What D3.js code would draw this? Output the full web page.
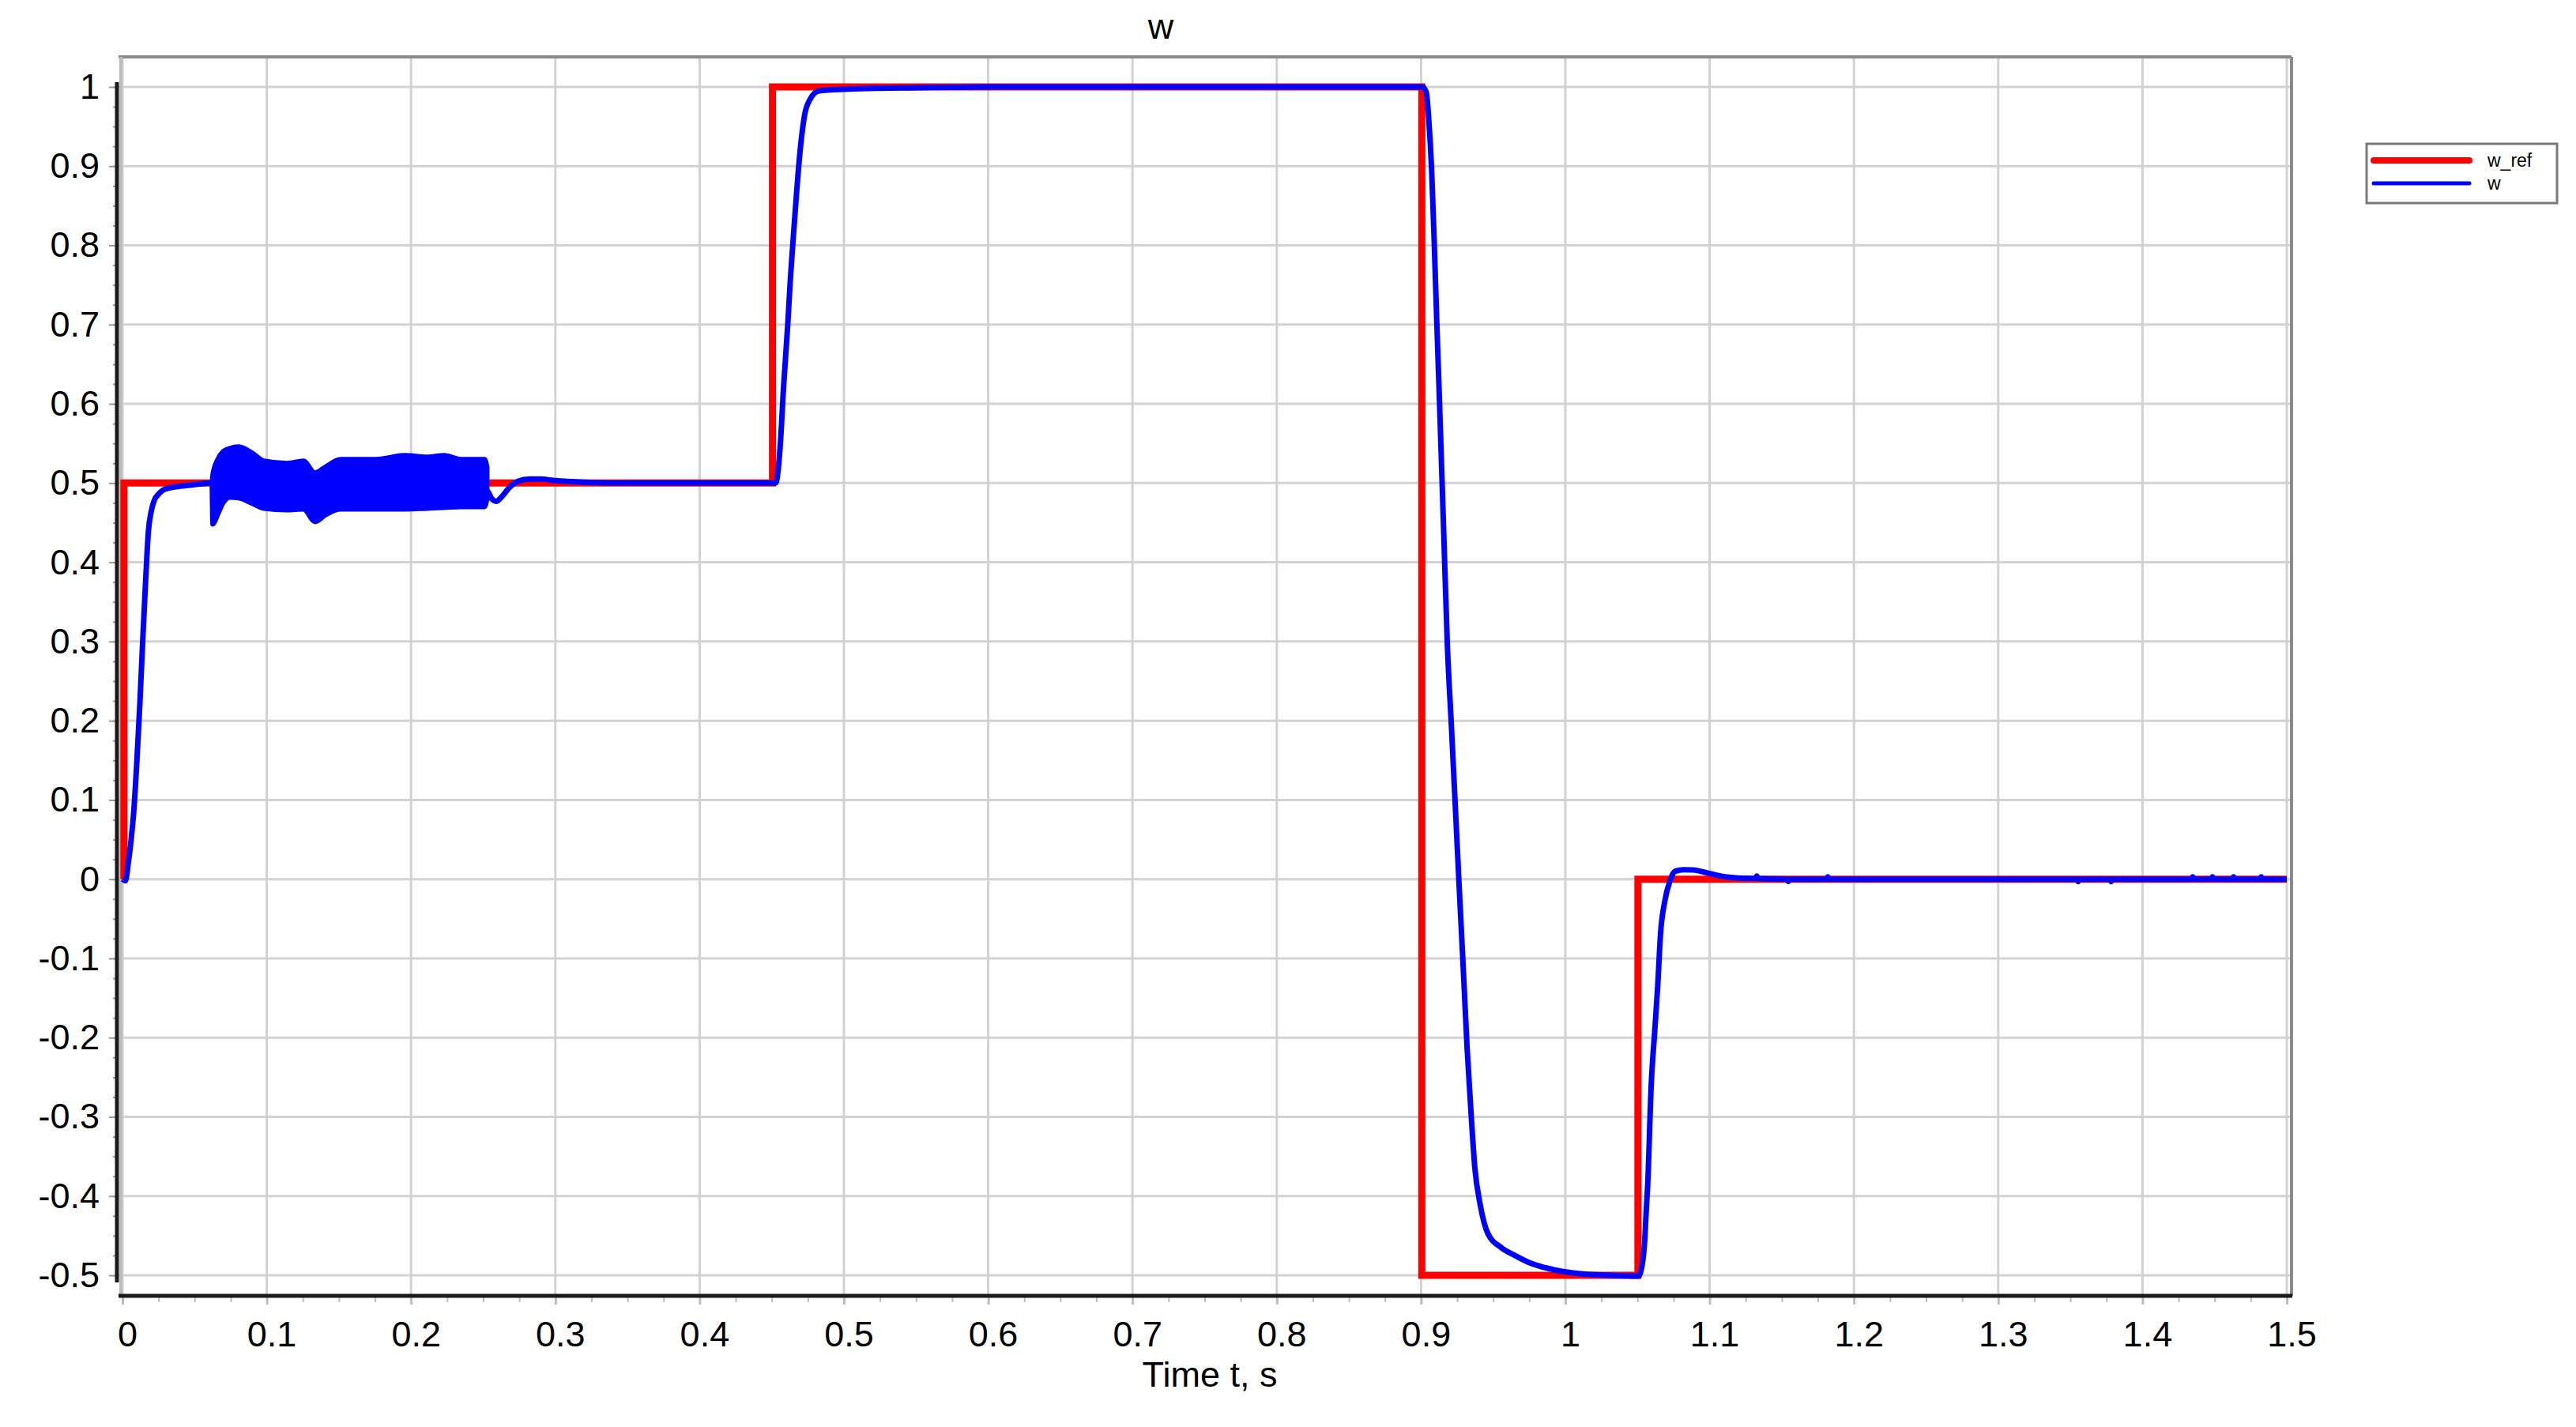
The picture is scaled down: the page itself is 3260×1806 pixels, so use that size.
<!DOCTYPE html>
<html>
<head>
<meta charset="utf-8">
<script src="https://cdn.jsdelivr.net/npm/d3@7"></script>
<style>
  html, body { margin: 0; padding: 0; background: #ffffff; }
  svg { display: block; font-family: "Liberation Sans", Arial, sans-serif; }
</style>
</head>
<body>
<svg id="chart" width="3260" height="1806"></svg>
<script>
// ---------------- data ----------------
const chartTitle = "w";
const xAxisTitle = "Time t, s";
const seriesNames = ["w_ref", "w"];

const xTickValues = [0, 0.1, 0.2, 0.3, 0.4, 0.5, 0.6, 0.7, 0.8, 0.9, 1, 1.1, 1.2, 1.3, 1.4, 1.5];
const xTickLabels = ["0", "0.1", "0.2", "0.3", "0.4", "0.5", "0.6", "0.7", "0.8", "0.9", "1", "1.1", "1.2", "1.3", "1.4", "1.5"];
const yTickValues = [1, 0.9, 0.8, 0.7, 0.6, 0.5, 0.4, 0.3, 0.2, 0.1, 0, -0.1, -0.2, -0.3, -0.4, -0.5];
const yTickLabels = ["1", "0.9", "0.8", "0.7", "0.6", "0.5", "0.4", "0.3", "0.2", "0.1", "0", "-0.1", "-0.2", "-0.3", "-0.4", "-0.5"];

// reference speed (step signal)
const refT = [0, 0.001, 0.001, 0.4505, 0.4505, 0.9005, 0.9005, 1.0503, 1.0503, 1.5];
const refV = [0, 0, 0.5, 0.5, 1, 1, -0.5, -0.5, 0, 0];

// measured speed w (smooth parts)
const wT = [0, 0.002, 0.004, 0.006, 0.008, 0.010, 0.012, 0.014, 0.016, 0.018, 0.020, 0.022, 0.025, 0.028, 0.033, 0.040, 0.050, 0.062,
  0.2527, 0.256, 0.259, 0.263, 0.268, 0.274, 0.282, 0.290, 0.300, 0.320, 0.350, 0.400, 0.4527,
  0.4558, 0.4582, 0.4610, 0.4628, 0.4650, 0.4673, 0.4700, 0.4728, 0.4764, 0.4828, 0.4993, 0.550, 0.600, 0.700, 0.800, 0.9009,
  0.9036, 0.9054, 0.9073, 0.9091, 0.9109, 0.9128, 0.9155, 0.9182, 0.9210, 0.9237, 0.9264, 0.9292, 0.9319, 0.9346, 0.9373, 0.9410,
  0.9465, 0.9556, 0.9650, 0.9737, 0.9830, 0.9920, 1.0104, 1.0300, 1.0506,
  1.0533, 1.0551, 1.0560, 1.0570, 1.0595, 1.0620, 1.0640, 1.0660, 1.0689, 1.0725, 1.0761, 1.0820, 1.0887, 1.0980, 1.1107, 1.1290,
  1.1320, 1.1327, 1.1334, 1.1540, 1.1545, 1.1550, 1.1815, 1.1819, 1.1823, 1.2300,
  1.3550, 1.3554, 1.3558, 1.3778, 1.3782, 1.3786, 1.4344, 1.4348, 1.4352, 1.4481, 1.4485, 1.4489,
  1.4627, 1.4631, 1.4635, 1.4819, 1.4823, 1.4827, 1.5];
const wV = [0, -0.002, 0.02, 0.05, 0.09, 0.15, 0.22, 0.30, 0.375, 0.44, 0.465, 0.478, 0.486, 0.491, 0.494, 0.496, 0.498, 0.5,
  0.49, 0.48, 0.477, 0.483, 0.494, 0.502, 0.505, 0.505, 0.503, 0.501, 0.5, 0.5, 0.5,
  0.546, 0.622, 0.698, 0.755, 0.812, 0.869, 0.926, 0.965, 0.984, 0.995, 0.997, 0.999, 1.0, 1.0, 1.0, 1.0,
  0.993, 0.957, 0.896, 0.805, 0.703, 0.601, 0.449, 0.296, 0.194, 0.093, -0.009, -0.111, -0.213, -0.294, -0.365, -0.411,
  -0.448, -0.465, -0.475, -0.483, -0.489, -0.493, -0.498, -0.500, -0.501,
  -0.486, -0.453, -0.42, -0.388, -0.26, -0.19, -0.135, -0.068, -0.028, -0.002, 0.010, 0.012, 0.0117, 0.008, 0.003, 0.001,
  0.001, 0.004, 0.001, 0, -0.003, 0, 0, 0.003, 0, 0,
  0, -0.003, 0, 0, -0.003, 0, 0, 0.003, 0, 0, 0.003, 0,
  0, 0.003, 0, 0, 0.003, 0, 0];

// oscillation band of w between 0.062 s and 0.253 s (upper / lower envelopes)
const bandT  = [0.0620, 0.0625, 0.0660, 0.0698, 0.0745, 0.0805, 0.0900, 0.0980, 0.1140, 0.1255, 0.1334, 0.1410, 0.1510, 0.1760, 0.1960, 0.2110, 0.2230, 0.2350, 0.2510, 0.2527];
const bandHi = [0.500, 0.510, 0.530, 0.540, 0.544, 0.546, 0.538, 0.528, 0.525, 0.528, 0.513, 0.521, 0.530, 0.530, 0.535, 0.533, 0.535, 0.530, 0.530, 0.520];
const bandLo = [0.500, 0.448, 0.460, 0.475, 0.482, 0.481, 0.474, 0.468, 0.466, 0.467, 0.451, 0.460, 0.467, 0.467, 0.467, 0.468, 0.469, 0.470, 0.470, 0.480];

// ---------------- layout ----------------
const W = 3260, H = 1806;
const plotLeft = 150, plotRight = 2900, plotTop = 72, plotBottom = 1640;
const svg = d3.select("#chart");

const x = d3.scaleLinear().domain([0, 1.5]).range([155, 2894]);
const y = d3.scaleLinear().domain([-0.5, 1]).range([1614, 110]);

const gridColor = "#d2d2d2";
const fontSize = 45;

svg.append("rect").attr("x", 0).attr("y", 0).attr("width", W).attr("height", H).attr("fill", "#ffffff");

// grid
const grid = svg.append("g");
grid.selectAll("line.vg").data(xTickValues).enter().append("line")
  .attr("x1", d => x(d)).attr("x2", d => x(d))
  .attr("y1", plotTop).attr("y2", plotBottom)
  .attr("stroke", gridColor).attr("stroke-width", 3);
grid.selectAll("line.hg").data(yTickValues).enter().append("line")
  .attr("x1", plotLeft).attr("x2", plotRight)
  .attr("y1", d => y(d)).attr("y2", d => y(d))
  .attr("stroke", gridColor).attr("stroke-width", 3);

// frame
svg.append("line").attr("x1", plotLeft).attr("x2", plotRight).attr("y1", plotTop).attr("y2", plotTop)
  .attr("stroke", "#8a8a8a").attr("stroke-width", 4);
svg.append("line").attr("x1", plotRight).attr("x2", plotRight).attr("y1", plotTop).attr("y2", plotBottom)
  .attr("stroke", "#8a8a8a").attr("stroke-width", 4);
svg.append("line").attr("x1", plotLeft + 3).attr("x2", plotLeft + 3).attr("y1", plotTop).attr("y2", plotBottom)
  .attr("stroke", "#bdbdbd").attr("stroke-width", 4);

const refData = refT.map((t, i) => ({ t: t, v: refV[i] }));
const wData = wT.map((t, i) => ({ t: t, v: wV[i] }));
const bandData = bandT.map((t, i) => ({ t: t, hi: bandHi[i], lo: bandLo[i] }));

// reference line
const stepLine = d3.line().x(d => x(d.t)).y(d => y(d.v));
svg.append("path").datum(refData).attr("d", stepLine)
  .attr("fill", "none").attr("stroke", "#ff0000").attr("stroke-width", 9)
  .attr("stroke-linejoin", "miter");

// w band
const areaGen = d3.area().x(d => x(d.t)).y0(d => y(d.lo)).y1(d => y(d.hi)).curve(d3.curveMonotoneX);
svg.append("path").datum(bandData).attr("d", areaGen)
  .attr("fill", "#0000ff").attr("stroke", "#0000ff").attr("stroke-width", 6)
  .attr("stroke-linejoin", "round");

// w line
const smoothLine = d3.line().x(d => x(d.t)).y(d => y(d.v)).curve(d3.curveMonotoneX);
svg.append("path").datum(wData).attr("d", smoothLine)
  .attr("fill", "none").attr("stroke", "#0000ff").attr("stroke-width", 7)
  .attr("stroke-linejoin", "round");

// y axis
const yMinor = d3.range(-0.5, 1.0001, 0.025).map(v => Math.round(v * 1000) / 1000);
const yAxisMinor = svg.append("g").attr("transform", `translate(${plotLeft - 2},0)`)
  .call(d3.axisLeft(y).tickValues(yMinor).tickSize(5).tickFormat(""));
yAxisMinor.select(".domain").remove();
yAxisMinor.selectAll(".tick line").attr("stroke", "#9a9a9a").attr("stroke-width", 2);

const yAxis = svg.append("g").attr("transform", `translate(${plotLeft - 2},0)`)
  .call(d3.axisLeft(y).tickValues(yTickValues).tickSize(10).tickPadding(12)
    .tickFormat((d, i) => yTickLabels[i]));
yAxis.select(".domain").remove();
yAxis.selectAll(".tick line").attr("stroke", "#9a9a9a").attr("stroke-width", 2);
yAxis.selectAll(".tick text").attr("font-size", fontSize).attr("fill", "#000")
  .attr("font-family", "'Liberation Sans', Arial, sans-serif");
svg.append("line").attr("x1", plotLeft - 2).attr("x2", plotLeft - 2)
  .attr("y1", y(1) - 6).attr("y2", y(-0.5) + 9)
  .attr("stroke", "#1a1a1a").attr("stroke-width", 5);

// x axis
const xMinor = d3.range(0, 1.5001, 0.025).map(v => Math.round(v * 1000) / 1000);
const xAxisMinor = svg.append("g").attr("transform", `translate(0,${plotBottom + 2})`)
  .call(d3.axisBottom(x).tickValues(xMinor).tickSize(6).tickFormat(""));
xAxisMinor.select(".domain").remove();
xAxisMinor.selectAll(".tick line").attr("stroke", "#bdbdbd").attr("stroke-width", 2);

const xAxis = svg.append("g").attr("transform", `translate(0,${plotBottom + 2})`)
  .call(d3.axisBottom(x).tickValues(xTickValues).tickSize(9).tickPadding(21)
    .tickFormat((d, i) => xTickLabels[i]));
xAxis.select(".domain").remove();
xAxis.selectAll(".tick line").attr("stroke", "#bdbdbd").attr("stroke-width", 3);
xAxis.selectAll(".tick text").attr("font-size", fontSize).attr("fill", "#000").attr("dx", 6)
  .attr("font-family", "'Liberation Sans', Arial, sans-serif");
svg.append("line").attr("x1", plotLeft).attr("x2", plotRight + 1)
  .attr("y1", plotBottom).attr("y2", plotBottom)
  .attr("stroke", "#1a1a1a").attr("stroke-width", 5);

// titles
svg.append("text").attr("x", 1469).attr("y", 49).attr("text-anchor", "middle")
  .attr("font-size", fontSize).attr("fill", "#000").text(chartTitle);
svg.append("text").attr("x", 1531).attr("y", 1755).attr("text-anchor", "middle")
  .attr("font-size", fontSize).attr("fill", "#000").text(xAxisTitle);

// legend
const lg = svg.append("g");
lg.append("rect").attr("x", 2995).attr("y", 182).attr("width", 241).attr("height", 75)
  .attr("fill", "#ffffff").attr("stroke", "#7a7a7a").attr("stroke-width", 3);
const legendColors = ["#ff0000", "#0000ff"];
const legendWidths = [8, 5];
const legendY = [203, 232];
seriesNames.forEach((name, i) => {
  lg.append("line").attr("x1", 3004).attr("x2", 3125).attr("y1", legendY[i]).attr("y2", legendY[i])
    .attr("stroke", legendColors[i]).attr("stroke-width", legendWidths[i]).attr("stroke-linecap", "round");
  lg.append("text").attr("x", 3148).attr("y", legendY[i] + 8).attr("font-size", 23)
    .attr("fill", "#000").text(name);
});
</script>
</body>
</html>
